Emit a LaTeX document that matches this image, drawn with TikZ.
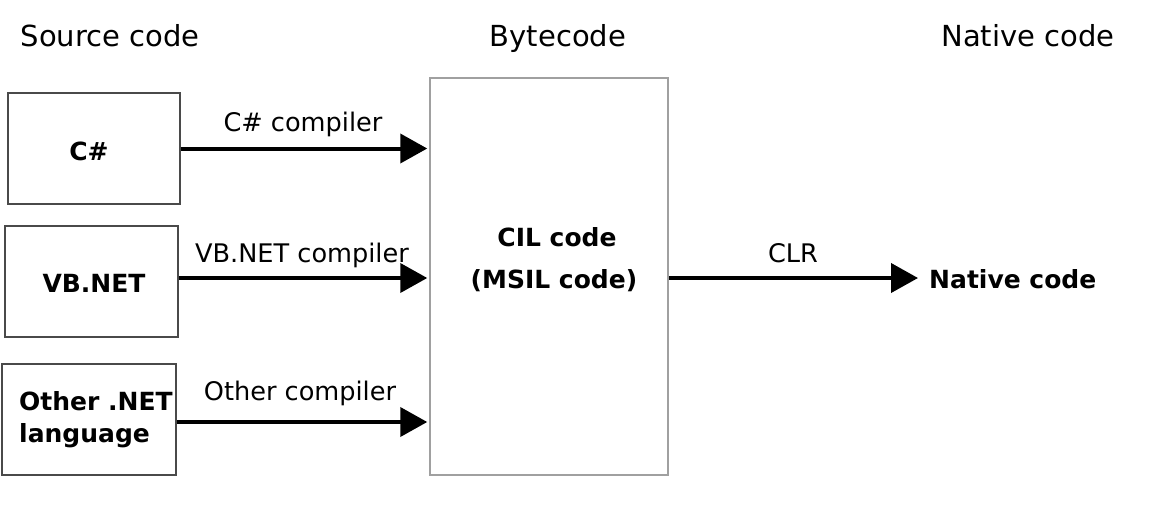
\documentclass[tikz,border=0pt]{standalone}
\usepackage{fontspec}
\setmainfont{DejaVu Sans}
\usetikzlibrary{arrows.meta}
\definecolor{boxedge}{HTML}{4A4A4A}
\definecolor{cileedge}{HTML}{A0A0A0}
\begin{document}
\begin{tikzpicture}[x=1pt,y=-1pt,
  heading/.style={anchor=base, inner sep=0pt, font=\fontsize{29}{34}\selectfont},
  edgelabel/.style={anchor=base, inner sep=0pt, font=\fontsize{25.6}{30}\selectfont},
  boldtext/.style={inner sep=0pt, font=\bfseries\fontsize{25}{32}\selectfont},
  srcbox/.style={draw=boxedge, line width=1.5pt, minimum height=111pt, inner sep=0pt,
    font=\bfseries\fontsize{25}{32}\selectfont},
  cilbox/.style={draw=cileedge, line width=1.5pt, minimum width=238pt, minimum height=397pt, inner sep=0pt},
  arr/.style={line width=4pt, shorten >=2pt, -{Triangle[length=27pt,width=29pt]}}]
\useasboundingbox (0,0) rectangle (1150,512);

% column headings
\node[heading] (hsrc) at (110,46) {Source code};
\node[heading] (hbyte) at (558,46) {Bytecode};
\node[heading] (hnat) at (1028,46) {Native code};

% source language boxes
\node[srcbox, minimum width=172pt] (cs) at (94,148.5) {};
\node[boldtext, anchor=base] (cstext) at (89,160) {C\#};
\node[srcbox, minimum width=173pt] (vb) at (91.5,281.5) {};
\node[boldtext, anchor=base] (vbtext) at (94,292) {VB.NET};
\node[srcbox, minimum width=174pt] (oth) at (89,419.5) {};
\node[boldtext, anchor=base west] (othtext1) at (19,410) {Other .NET};
\node[boldtext, anchor=base west] (othtext2) at (19,442) {language};

% intermediate language box
\node[cilbox] (cil) at (549,276.5) {};
\node[boldtext, anchor=base] (ciltext1) at (557,246) {CIL code};
\node[boldtext, anchor=base] (ciltext2) at (554,288) {(MSIL code)};

% native code target
\node[boldtext, anchor=base west] (native) at (929,288) {Native code};

% compilers and runtime
\draw[arr] (cs.east) -- (cs.east -| cil.west);
\draw[arr] (vb.east |- 0,278) -- (cil.west |- 0,278);
\draw[arr] (oth.east |- 0,422) -- (cil.west |- 0,422);
\draw[arr] (cil.east |- 0,278) -- ([xshift=-9pt]native.west |- 0,278);

\node[edgelabel] (l1) at (303,131) {C\# compiler};
\node[edgelabel] (l2) at (302,262) {VB.NET compiler};
\node[edgelabel] (l3) at (300,400) {Other compiler};
\node[edgelabel] (l4) at (793,262) {CLR};
\end{tikzpicture}
\end{document}
